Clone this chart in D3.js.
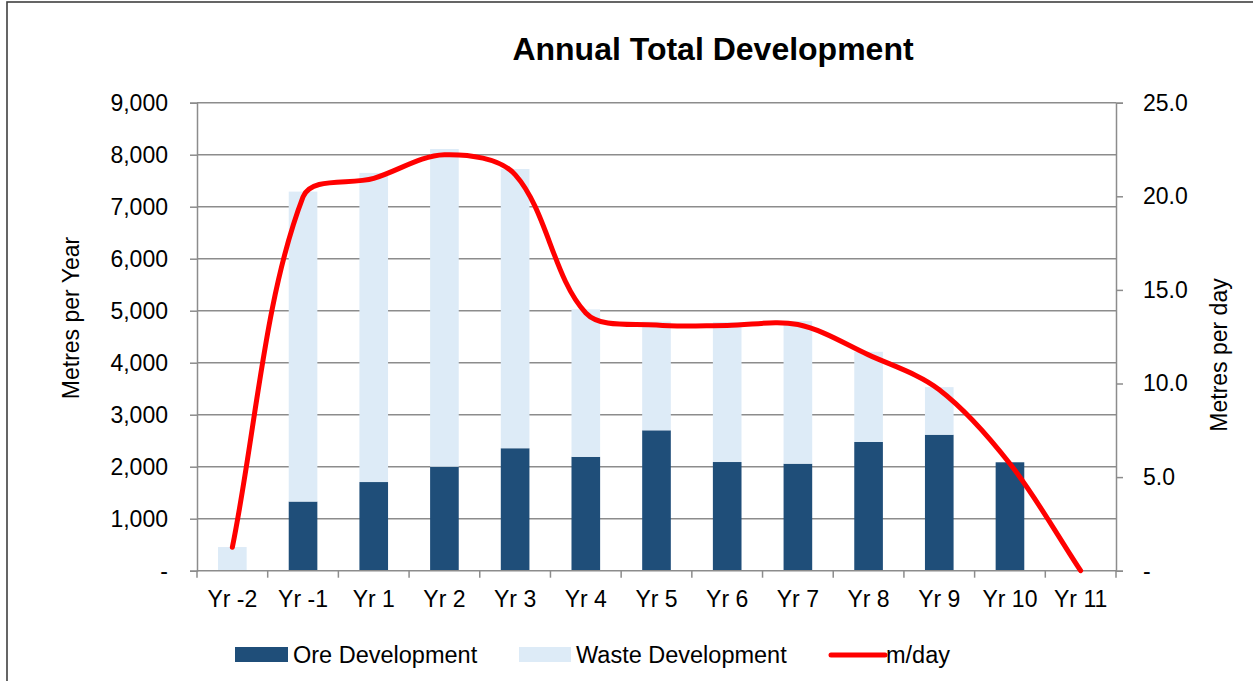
<!DOCTYPE html>
<html>
<head>
<meta charset="utf-8">
<script src="https://cdn.jsdelivr.net/npm/d3@7"></script>
<style>
  html, body { margin: 0; padding: 0; background: #fff; }
  svg { display: block; font-family: "Liberation Sans", Arial, sans-serif; }
</style>
</head>
<body>
<svg id="chart" width="1253" height="681"></svg>
<script>
// Annual development by year: ore and waste metres (stacked), plus metres per day
const years = ["Yr -2", "Yr -1", "Yr 1", "Yr 2", "Yr 3", "Yr 4", "Yr 5", "Yr 6", "Yr 7", "Yr 8", "Yr 9", "Yr 10", "Yr 11"];
const oreDevelopment = [0, 1330, 1705, 2000, 2355, 2190, 2700, 2090, 2058, 2475, 2615, 2085, 10];
const wasteDevelopment = [455, 5960, 5945, 6110, 5370, 2835, 2090, 2690, 2742, 1735, 915, 0, 0];
const metresPerDay = [1.25, 19.97, 20.96, 22.22, 21.16, 13.77, 13.12, 13.10, 13.15, 11.53, 9.67, 5.71, 0];
const leftTicks = [0, 1000, 2000, 3000, 4000, 5000, 6000, 7000, 8000, 9000];
const rightTicks = [0, 5, 10, 15, 20, 25];

const svg = d3.select("#chart");
const plot = { left: 197, right: 1116, top: 102.7, bottom: 570.7 };
const oreColor = "#1F4E79", wasteColor = "#DDEBF7", lineColor = "#FF0000", gridColor = "#8C8C8C";

// Smoothed-line curve: Bezier handles follow the neighbour chord, scaled by segment length
function curveSmoothChord(context) {
  let pts = [];
  return {
    areaStart() {}, areaEnd() {},
    lineStart() { pts = []; },
    point(x, y) { pts.push([x, y]); },
    lineEnd() {
      const n = pts.length;
      if (!n) return;
      const dist = (a, b) => Math.hypot(b[0] - a[0], b[1] - a[1]);
      context.moveTo(pts[0][0], pts[0][1]);
      for (let i = 0; i < n - 1; i++) {
        const p0 = pts[i - 1] || pts[i], p1 = pts[i], p2 = pts[i + 1], p3 = pts[i + 2] || pts[i + 1];
        const d01 = dist(p0, p1), d12 = dist(p1, p2), d23 = dist(p2, p3);
        const f1 = d12 / ((d01 + d12) || 1) / 3;
        const f2 = d12 / ((d12 + d23) || 1) / 3;
        const c1 = [p1[0] + (p2[0] - p0[0]) * f1, p1[1] + (p2[1] - p0[1]) * f1];
        const c2 = [p2[0] - (p3[0] - p1[0]) * f2, p2[1] - (p3[1] - p1[1]) * f2];
        context.bezierCurveTo(c1[0], c1[1], c2[0], c2[1], p2[0], p2[1]);
      }
    }
  };
}

// outer chart frame
svg.append("rect").attr("x", 7).attr("y", 2).attr("width", 1260).attr("height", 700)
  .attr("fill", "none").attr("stroke", "#404040").attr("stroke-width", 1.6);

const x = d3.scaleBand().domain(years).range([plot.left, plot.right]).padding(0);
const yL = d3.scaleLinear().domain([0, 9000]).range([plot.bottom, plot.top]);
const yR = d3.scaleLinear().domain([0, 25]).range([plot.bottom, plot.top]);

// horizontal gridlines
svg.append("g").selectAll("line").data(leftTicks.filter(d => d > 0)).join("line")
  .attr("x1", plot.left).attr("x2", plot.right)
  .attr("y1", d => yL(d)).attr("y2", d => yL(d))
  .attr("stroke", gridColor).attr("stroke-width", 1.5);

// stacked bars
const barW = x.bandwidth() * 0.405;
const rows = years.map((y, i) => ({ year: y, ore: oreDevelopment[i], waste: wasteDevelopment[i] }));
const stack = d3.stack().keys(["ore", "waste"])(rows);
const colors = { ore: oreColor, waste: wasteColor };
svg.append("g").selectAll("g").data(stack).join("g")
  .attr("fill", s => colors[s.key])
  .selectAll("rect").data(s => s).join("rect")
  .attr("x", d => x(d.data.year) + (x.bandwidth() - barW) / 2)
  .attr("width", barW)
  .attr("y", d => yL(d[1]))
  .attr("height", d => Math.max(0, yL(d[0]) - yL(d[1])));

// left axis
const fmtL = d => d === 0 ? "-" : d3.format(",")(d);
const axL = svg.append("g").attr("transform", `translate(${plot.left},0)`)
  .call(d3.axisLeft(yL).tickValues(leftTicks).tickFormat(fmtL).tickSize(7).tickPadding(22));
axL.select(".domain").attr("stroke", gridColor).attr("stroke-width", 1.5);
axL.selectAll(".tick line").attr("stroke", gridColor).attr("stroke-width", 1.5);
axL.selectAll("text").attr("font-size", 23).attr("fill", "#000")
  .attr("font-family", "Liberation Sans, Arial, sans-serif");

// right axis
const fmtR = d => d === 0 ? "-" : d3.format(".1f")(d);
const axR = svg.append("g").attr("transform", `translate(${plot.right},0)`)
  .call(d3.axisRight(yR).tickValues(rightTicks).tickFormat(fmtR).tickSize(7).tickPadding(20));
axR.select(".domain").attr("stroke", gridColor).attr("stroke-width", 1.5);
axR.selectAll(".tick line").attr("stroke", gridColor).attr("stroke-width", 1.5);
axR.selectAll("text").attr("font-size", 23).attr("fill", "#000")
  .attr("font-family", "Liberation Sans, Arial, sans-serif");

// bottom axis: ticks between categories
const gB = svg.append("g");
gB.append("line").attr("x1", plot.left).attr("x2", plot.right)
  .attr("y1", plot.bottom).attr("y2", plot.bottom)
  .attr("stroke", gridColor).attr("stroke-width", 1.5);
const bounds = years.map(y => x(y)).concat([plot.right]);
gB.selectAll("line.tk").data(bounds).join("line").attr("class", "tk")
  .attr("x1", d => d).attr("x2", d => d)
  .attr("y1", plot.bottom).attr("y2", plot.bottom + 7)
  .attr("stroke", gridColor).attr("stroke-width", 1.5);
gB.selectAll("text").data(years).join("text")
  .attr("x", d => x(d) + x.bandwidth() / 2).attr("y", 606.5)
  .attr("text-anchor", "middle").attr("font-size", 23).attr("fill", "#000")
  .text(d => d);

// metres per day line (smoothed)
const line = d3.line()
  .x((d, i) => x(years[i]) + x.bandwidth() / 2)
  .y(d => yR(d))
  .curve(curveSmoothChord);
svg.append("path").datum(metresPerDay)
  .attr("d", line).attr("fill", "none")
  .attr("stroke", lineColor).attr("stroke-width", 5)
  .attr("stroke-linecap", "round").attr("stroke-linejoin", "round");

// title
svg.append("text").attr("x", 713).attr("y", 60).attr("text-anchor", "middle")
  .attr("font-size", 32).attr("font-weight", "bold").attr("fill", "#000")
  .text("Annual Total Development");

// axis titles
svg.append("text").attr("transform", "translate(79,318) rotate(-90)")
  .attr("text-anchor", "middle").attr("font-size", 23).attr("fill", "#000")
  .text("Metres per Year");
svg.append("text").attr("transform", "translate(1227,355) rotate(-90)")
  .attr("text-anchor", "middle").attr("font-size", 23).attr("fill", "#000")
  .text("Metres per day");

// legend
const legend = [
  { label: "Ore Development", type: "rect", color: oreColor, sx: 235, sw: 53, tx: 293 },
  { label: "Waste Development", type: "rect", color: wasteColor, sx: 519, sw: 52, tx: 576 },
  { label: "m/day", type: "line", color: lineColor, sx: 831, sw: 54, tx: 886 }
];
const lg = svg.append("g");
legend.forEach(d => {
  if (d.type === "rect") {
    lg.append("rect").attr("x", d.sx).attr("y", 647).attr("width", d.sw).attr("height", 15).attr("fill", d.color);
  } else {
    lg.append("line").attr("x1", d.sx).attr("x2", d.sx + d.sw).attr("y1", 655).attr("y2", 655)
      .attr("stroke", d.color).attr("stroke-width", 5).attr("stroke-linecap", "round");
  }
  lg.append("text").attr("x", d.tx).attr("y", 663).attr("font-size", 23.5).attr("fill", "#000").text(d.label);
});
</script>
</body>
</html>
